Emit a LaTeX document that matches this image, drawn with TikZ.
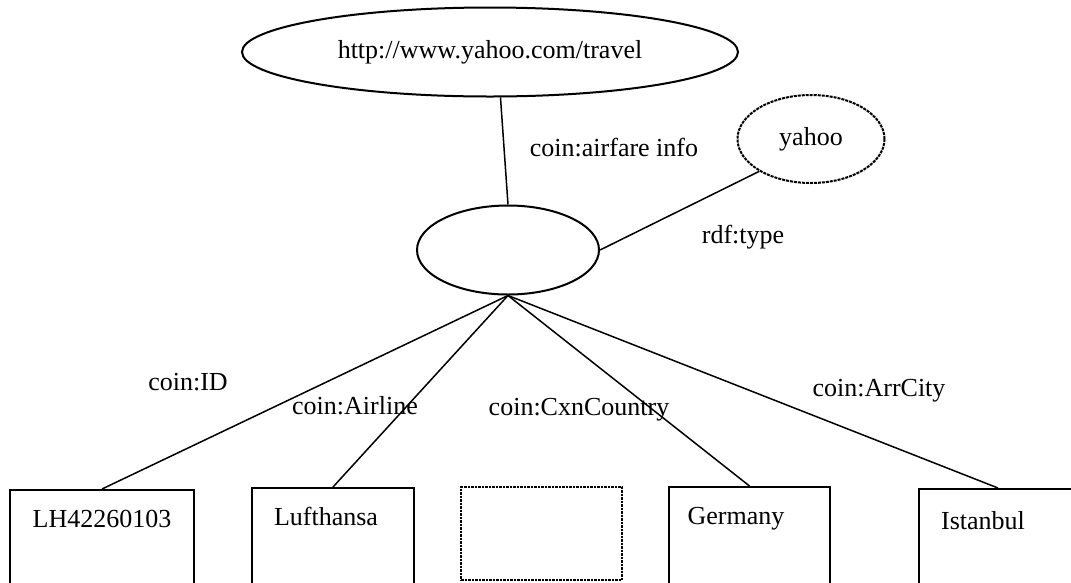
\documentclass[tikz,border=0pt]{standalone}
\usepackage{fontspec}
\setmainfont{Liberation Serif}
\usetikzlibrary{shapes.geometric}
\tikzset{
  lbl/.style={font=\fontsize{26}{31}\selectfont, inner sep=0pt},
  ell/.style={ellipse, draw, line width=2pt, inner sep=0pt, font=\fontsize{26}{31}\selectfont},
  dashell/.style={ell, dash pattern=on 3pt off 1pt},
  box/.style={rectangle, draw, line width=2pt, inner sep=0pt, minimum height=111pt},
  dotbox/.style={rectangle, draw, line width=2pt, inner sep=0pt, dash pattern=on 2.5pt off 1pt},
  conn/.style={line width=1.5pt},
}
\begin{document}
\begin{tikzpicture}[x=1pt,y=-1pt]
\clip (0,0) rectangle (1071,582);
\fill[white] (0,0) rectangle (1071,582);
% ellipses
\node[ell, minimum width=496pt, minimum height=89pt] (top) at (490,52) {http://www.yahoo.com/travel};
\node[dashell, minimum width=147pt, minimum height=88pt] (yahoo) at (811,139) {yahoo};
\node[ell, minimum width=182pt, minimum height=89pt] (mid) at (508,250) {};
% boxes
\node[box, minimum width=184pt, anchor=north] (b1) at (102,489) {};
\node[box, minimum width=162pt, anchor=north] (b2) at (333,487) {};
\node[dotbox, minimum width=161pt, minimum height=93pt, anchor=north] (b3) at (541.5,486) {};
\node[box, minimum width=161pt, anchor=north] (b4) at (749.5,486) {};
\node[box, minimum width=158pt, anchor=north] (b5) at (998,488) {};
% box texts
\node[lbl] (t1) at (102,519) {LH42260103};
\node[lbl] (t2) at (326,516) {Lufthansa};
\node[lbl] (t4) at (736,519) {Germany};
\node[lbl] (t5) at (983,521) {Istanbul};
% connectors
\draw[conn] (top.283) -- (mid.north);
\draw[conn] (mid.east) -- (yahoo.212);
\draw[conn] (mid.south) -- (b1.north);
\draw[conn] (mid.south) -- (b2.north);
\draw[conn] (mid.south) -- (b4.north);
\draw[conn] (mid.south) -- (b5.north);
% connector labels
\node[lbl] (l1) at (614,148) {coin:airfare info};
\node[lbl] (l2) at (743,237) {rdf:type};
\node[lbl] (l3) at (188,382) {coin:ID};
\node[lbl] (l4) at (355,406) {coin:Airline};
\node[lbl] (l5) at (579,410) {coin:CxnCountry};
\node[lbl] (l6) at (879,391) {coin:ArrCity};
\end{tikzpicture}
\end{document}
